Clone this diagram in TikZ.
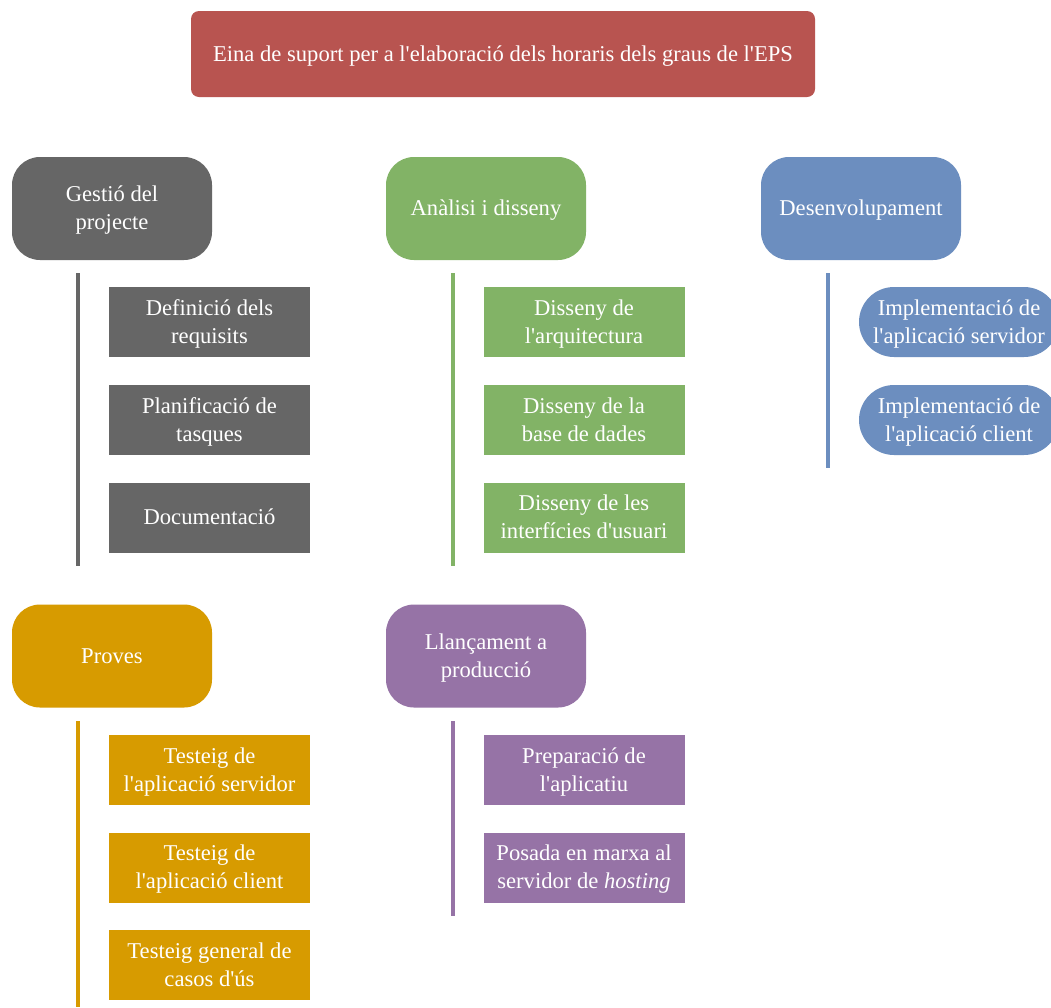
\documentclass[tikz,border=0pt]{standalone}
\usepackage{fontspec}
\newfontfamily\lsf{Liberation Serif}
\definecolor{cred}{HTML}{B85450}
\definecolor{cgray}{HTML}{666666}
\definecolor{cgreen}{HTML}{82B366}
\definecolor{cblue}{HTML}{6C8EBF}
\definecolor{corange}{HTML}{D79B00}
\definecolor{cpurple}{HTML}{9673A6}
\tikzset{
  txt/.style={text=white, align=center, inner sep=0pt, font=\lsf\fontsize{22.6}{28}\selectfont},
  one/.style={text height=14pt, text depth=0pt},
  two/.style={text height=42pt, text depth=0pt},
  headbox/.style={txt, rectangle, rounded corners=28pt, minimum width=200pt, minimum height=103pt},
  leaf/.style={txt, rectangle, minimum width=201pt, minimum height=70pt},
  pill/.style={txt, rectangle, rounded corners=35pt, minimum width=200pt, minimum height=70pt},
  bar/.style={line width=4pt},
}
\begin{document}
\begin{tikzpicture}[x=1pt,y=-1pt]
\useasboundingbox (0,0) rectangle (1051,1007);
\fill[white] (0,0) rectangle (1051,1007);
% title
\node[txt, one, fill=cred, rounded corners=8pt, minimum width=624pt, minimum height=86pt] (title) at (503,54)
  {Eina de suport per a l'elaboració dels horaris dels graus de l'EPS};
% headers
\node[headbox, two, fill=cgray] (gest) at (112,208.5) {Gestió del\\projecte};
\node[headbox, one, fill=cgreen] (anal) at (486,208.5) {Anàlisi i disseny};
\node[headbox, one, fill=cblue] (dese) at (861,208.5) {Desenvolupament};
\node[headbox, one, fill=corange] (prov) at (112,656) {Proves};
\node[headbox, two, fill=cpurple] (llan) at (486,656) {Llançament a\\producció};
% bars
\coordinate (g1) at (78,273); \coordinate (g2) at (78,566);
\coordinate (a1) at (453,273); \coordinate (a2) at (453,566);
\coordinate (d1) at (828,273); \coordinate (d2) at (828,468);
\coordinate (p1) at (78,721); \coordinate (p2) at (78,1007);
\coordinate (l1) at (453,721); \coordinate (l2) at (453,916);
\draw[bar, cgray] (g1) -- (g2);
\draw[bar, cgreen] (a1) -- (a2);
\draw[bar, cblue] (d1) -- (d2);
\draw[bar, corange] (p1) -- (p2);
\draw[bar, cpurple] (l1) -- (l2);
% gestio children
\node[leaf, two, fill=cgray] (g_a) at (209.5,322) {Definició dels\\requisits};
\node[leaf, two, fill=cgray] (g_b) at (209.5,420) {Planificació de\\tasques};
\node[leaf, one, fill=cgray] (g_c) at (209.5,517.5) {Documentació};
% analisi children
\node[leaf, two, fill=cgreen] (a_a) at (584,322) {Disseny de\\l'arquitectura};
\node[leaf, two, fill=cgreen] (a_b) at (584,420) {Disseny de la\\base de dades};
\node[leaf, two, fill=cgreen] (a_c) at (584,517.5) {Disseny de les\\interfícies d'usuari};
% desenvolupament children
\node[pill, two, fill=cblue] (d_a) at (959,322) {Implementació de\\l'aplicació servidor};
\node[pill, two, fill=cblue] (d_b) at (959,420) {Implementació de\\l'aplicació client};
% proves children
\node[leaf, two, fill=corange] (p_a) at (209.5,770) {Testeig de\\l'aplicació servidor};
\node[leaf, two, fill=corange] (p_b) at (209.5,867.5) {Testeig de\\l'aplicació client};
\node[leaf, two, fill=corange] (p_c) at (209.5,965) {Testeig general de\\casos d'ús};
% llancament children
\node[leaf, two, fill=cpurple] (l_a) at (584,770) {Preparació de\\l'aplicatiu};
\node[leaf, two, fill=cpurple] (l_b) at (584,867.5) {Posada en marxa al\\servidor de \textit{hosting}};
\end{tikzpicture}
\end{document}
